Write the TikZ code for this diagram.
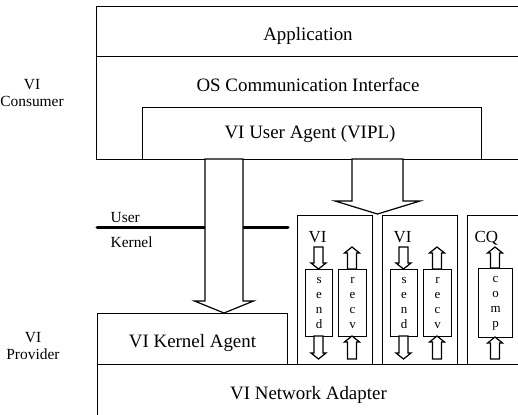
\documentclass[tikz,border=0pt]{standalone}
\usepackage{fontspec}
\setmainfont{Liberation Serif}

% hollow block arrow: x, base y, y of the head's wings, tip y, half shaft width, half head width
\newcommand\hollowarrow[6]{%
  \draw[hollow] (#1-#5,#2) -- (#1-#5,#3) -- (#1-#6,#3) -- (#1,#4)
    -- (#1+#6,#3) -- (#1+#5,#3) -- (#1+#5,#2) -- cycle;}

\begin{document}
\begin{tikzpicture}[x=1bp,y=-1bp,line width=1.2bp,
  box/.style={draw,rectangle,inner sep=0pt,anchor=north west},
  hollow/.style={draw=black,fill=white,line join=miter},
  big/.style={font=\fontsize{19}{22}\selectfont,anchor=base,inner sep=0pt},
  side/.style={font=\fontsize{15.5}{17.5}\selectfont,align=center,anchor=base,inner sep=0pt},
  small/.style={font=\fontsize{15.5}{18}\selectfont,anchor=base west,inner sep=0pt},
  vilbl/.style={font=\fontsize{17}{20}\selectfont,anchor=base west,inner sep=0pt},
  queue/.style={box,font=\fontsize{13}{15}\selectfont,align=center,minimum height=67bp}]
\useasboundingbox (0,0) rectangle (518,414);
\clip (0,0) rectangle (518,414);

% consumer side
\node[box,minimum width=460bp,minimum height=50bp] (app) at (96,6) {};
\node[box,minimum width=460bp,minimum height=103bp] (osci) at (96,56) {};
\node[box,minimum width=339bp,minimum height=52bp] (vipl) at (142,107) {};
\node[big] (tapp) at (308,40) {Application};
\node[big] (tosci) at (308,91) {OS Communication Interface};
\node[big] (tvipl) at (310,138.5) {VI User Agent (VIPL)};

% provider side
\node[box,minimum width=460bp,minimum height=80bp] (nic) at (97,364) {};
\node[box,minimum width=190bp,minimum height=51bp] (kagent) at (97,313) {};
\node[big] (tkagent) at (192.5,347.5) {VI Kernel Agent};
\node[big] (tnic) at (308.5,399) {VI Network Adapter};

% side labels
\node[side] (lcons) at (32,106.5) {VI\\Consumer};
\node[side] (lprov) at (33,359.5) {VI\\Provider};

% user / kernel boundary
\coordinate (ukl) at (97,227);
\coordinate (ukr) at (288,227);
\draw[line width=3bp,line cap=round] (ukl) -- (ukr);
\node[small] (tuser) at (110,222) {User};
\node[small] (tkern) at (110,247) {Kernel};

% virtual interfaces and completion queue
\node[box,minimum width=75bp,minimum height=149bp] (vi1) at (297,215) {};
\node[box,minimum width=75bp,minimum height=149bp] (vi2) at (382,215) {};
\node[box,minimum width=80bp,minimum height=149bp] (cq) at (467,215) {};
\node[vilbl] (tvi1) at (308,242) {VI};
\node[vilbl] (tvi2) at (393,242) {VI};
\node[vilbl] (tcq) at (474,242) {CQ};

\node[queue,minimum width=27bp] (send1) at (305,269) {s\\e\\n\\d};
\node[queue,minimum width=28bp] (recv1) at (338,269) {r\\e\\c\\v};
\node[queue,minimum width=27bp] (send2) at (390,269) {s\\e\\n\\d};
\node[queue,minimum width=28bp] (recv2) at (423,269) {r\\e\\c\\v};
\node[queue,minimum width=34bp,minimum height=69bp] (comp) at (478,268) {c\\o\\m\\p};

% work and completion flow
\hollowarrow{318.5}{247}{263}{269}{4.5}{7.5}
\hollowarrow{318.5}{336}{353}{359}{4.5}{7.5}
\hollowarrow{352}{269}{253}{247}{4.5}{7.5}
\hollowarrow{352}{359}{342}{336}{4.5}{7.5}
\hollowarrow{403.5}{247}{263}{269}{4.5}{7.5}
\hollowarrow{403.5}{336}{353}{359}{4.5}{7.5}
\hollowarrow{437}{269}{253}{247}{4.5}{7.5}
\hollowarrow{437}{359}{342}{336}{4.5}{7.5}
\hollowarrow{495}{268}{253}{247}{4.5}{7.5}
\hollowarrow{495}{359}{343}{337}{4.5}{7.5}

% user agent to kernel agent and to the VIs
\hollowarrow{224}{159}{301}{313}{19}{29.5}
\hollowarrow{377.5}{159}{201}{214}{25.5}{42.5}
\end{tikzpicture}
\end{document}
